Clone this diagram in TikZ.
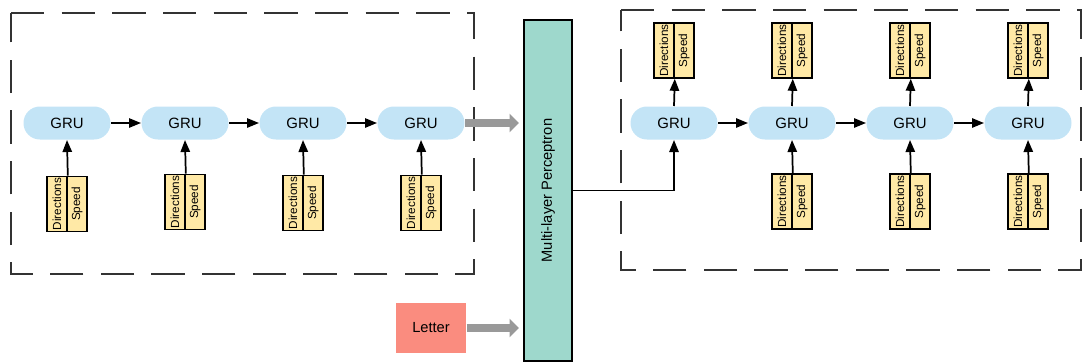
\documentclass[tikz,border=0pt]{standalone}
\usepackage{fontspec}
\setmainfont{Liberation Sans}
\usetikzlibrary{arrows.meta}
\definecolor{grublue}{RGB}{195,228,246}
\definecolor{cellyellow}{RGB}{255,233,166}
\definecolor{mlpteal}{RGB}{158,216,204}
\definecolor{lettersalmon}{RGB}{250,140,127}
\definecolor{arrowgray}{RGB}{153,153,153}
\definecolor{dashgray}{RGB}{51,51,51}

\tikzset{every picture/.style={line width=0.75pt}}

\begin{document}
\begin{tikzpicture}[x=0.75pt,y=0.75pt,yscale=-1,xscale=1,
  gru/.style={rectangle, rounded corners=12.3pt, fill=grublue, minimum width=65.25pt, minimum height=24.75pt, inner sep=0pt, font=\fontsize{11.2}{13}\selectfont},
  cell/.style={draw=black, line width=1.2pt, fill=cellyellow, rotate=90, minimum width=41.25pt, minimum height=15pt, inner sep=0pt, font=\fontsize{8.8}{10}\selectfont},
  mlpbox/.style={draw=black, line width=1.5pt, fill=mlpteal, rotate=90, minimum width=255.75pt, minimum height=36pt, inner sep=0pt, font=\fontsize{11}{13}\selectfont},
  letterbox/.style={fill=lettersalmon, minimum width=52.5pt, minimum height=37.5pt, inner sep=0pt, font=\fontsize{11}{13}\selectfont},
  thinarrow/.style={draw=black, line width=1.3pt, -{Triangle[length=9pt,width=7pt]}},
  fatarrow/.style={draw=arrowgray, line width=6pt, -{Triangle[length=7pt,width=13.5pt]}, shorten >=3pt},
  groupbox/.style={draw=dashgray, line width=1.5pt, dash pattern={on 25pt off 13pt}}]
\useasboundingbox (0,0) rectangle (1085,362);

%Shape: Rectangle [encoder group]
\draw [groupbox] (11,13) -- (474,13) -- (474,274) -- (11,274) -- cycle ;
%Shape: Rectangle [decoder group]
\draw [groupbox] (621,10) -- (1081,10) -- (1081,270) -- (621,270) -- cycle ;

% Encoder GRUs
\node [gru] (enc1) at (67,123) {GRU};
\node [gru] (enc2) at (185,123) {GRU};
\node [gru] (enc3) at (303,123) {GRU};
\node [gru] (enc4) at (421,123) {GRU};
% Encoder inputs
\node [cell] (encin1d) at (57,204) {Directions};
\node [cell] (encin1s) at (77,204) {Speed};
\node [cell] (encin2d) at (175,202) {Directions};
\node [cell] (encin2s) at (195,202) {Speed};
\node [cell] (encin3d) at (293,203) {Directions};
\node [cell] (encin3s) at (313,203) {Speed};
\node [cell] (encin4d) at (411,203) {Directions};
\node [cell] (encin4s) at (431,203) {Speed};

%Shape: Rectangle [mlp]
\node [mlpbox] (mlp) at (548,190.5) {Multi-layer Perceptron};
%Shape: Rectangle [letter]
\node [letterbox] (letter) at (431,328) {Letter};

% Decoder GRUs
\node [gru] (dec1) at (674,123) {GRU};
\node [gru] (dec2) at (792,123) {GRU};
\node [gru] (dec3) at (910,123) {GRU};
\node [gru] (dec4) at (1028,123) {GRU};
% Decoder outputs
\node [cell] (decout1d) at (664,50.5) {Directions};
\node [cell] (decout1s) at (684,50.5) {Speed};
\node [cell] (decout2d) at (782,50.5) {Directions};
\node [cell] (decout2s) at (802,50.5) {Speed};
\node [cell] (decout3d) at (900,50.5) {Directions};
\node [cell] (decout3s) at (920,50.5) {Speed};
\node [cell] (decout4d) at (1018,50.5) {Directions};
\node [cell] (decout4s) at (1038,50.5) {Speed};
% Decoder inputs
\node [cell] (decin2d) at (782,201.5) {Directions};
\node [cell] (decin2s) at (802,201.5) {Speed};
\node [cell] (decin3d) at (900,201.5) {Directions};
\node [cell] (decin3s) at (920,201.5) {Speed};
\node [cell] (decin4d) at (1018,201.5) {Directions};
\node [cell] (decin4s) at (1038,201.5) {Speed};

%Straight Lines [encoder chain]
\draw [thinarrow] (enc1) -- (enc2) ;
\draw [thinarrow] (enc2) -- (enc3) ;
\draw [thinarrow] (enc3) -- (enc4) ;
\draw [thinarrow] (encin1d.south east) -- (enc1.south) ;
\draw [thinarrow] (encin2d.south east) -- (enc2.south) ;
\draw [thinarrow] (encin3d.south east) -- (enc3.south) ;
\draw [thinarrow] (encin4d.south east) -- (enc4.south) ;

%Straight Lines [into mlp]
\draw [fatarrow] (enc4.east) -- (enc4.east -| mlp.north) ;
\draw [fatarrow] (letter.east) -- (letter.east -| mlp.north) ;

%Straight Lines [decoder chain]
\draw [thinarrow] (mlp.south) -| (dec1.south) ;
\draw [thinarrow] (dec1) -- (dec2) ;
\draw [thinarrow] (dec2) -- (dec3) ;
\draw [thinarrow] (dec3) -- (dec4) ;
\draw [thinarrow] (dec1.north) -- (decout1d.south west) ;
\draw [thinarrow] (dec2.north) -- (decout2d.south west) ;
\draw [thinarrow] (dec3.north) -- (decout3d.south west) ;
\draw [thinarrow] (dec4.north) -- (decout4d.south west) ;
\draw [thinarrow] (decin2d.south east) -- (dec2.south) ;
\draw [thinarrow] (decin3d.south east) -- (dec3.south) ;
\draw [thinarrow] (decin4d.south east) -- (dec4.south) ;

\end{tikzpicture}
\end{document}
